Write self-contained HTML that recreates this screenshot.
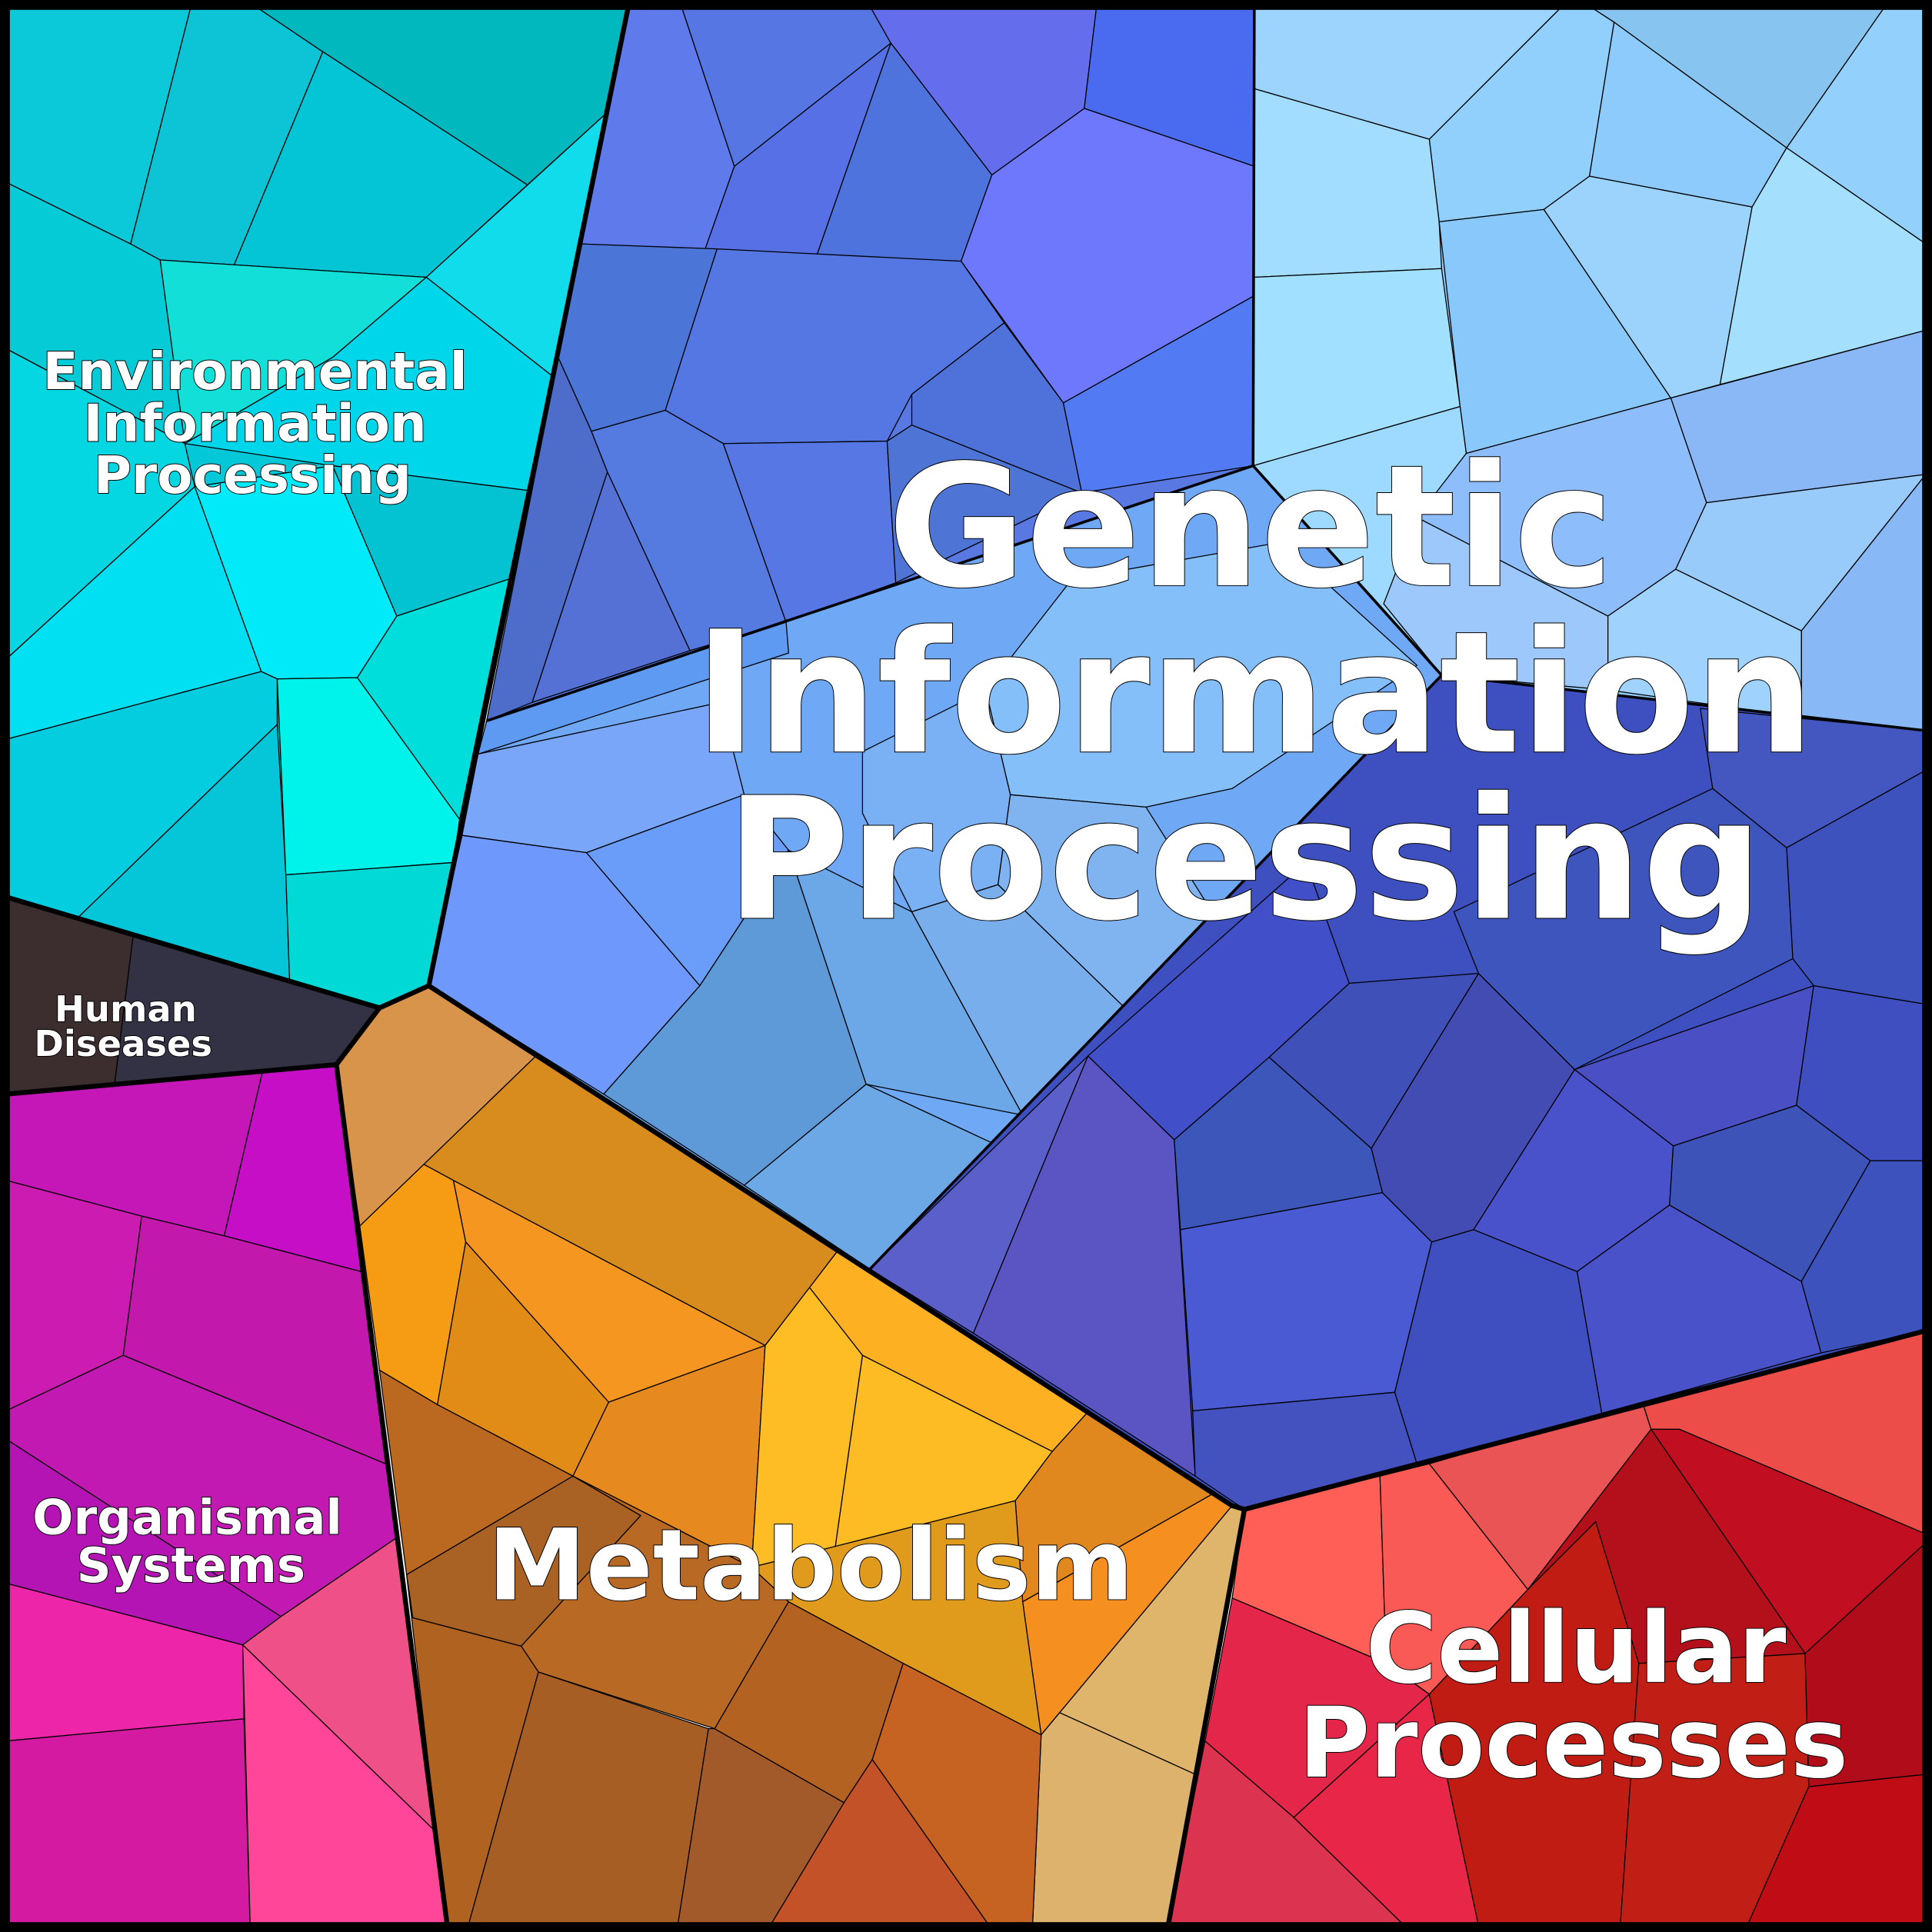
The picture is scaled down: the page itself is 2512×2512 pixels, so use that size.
<!DOCTYPE html>
<html><head><meta charset="utf-8"><style>
html,body{margin:0;padding:0;background:#fff}
svg{display:block}
text{font-family:"DejaVu Sans","Liberation Sans",sans-serif;font-weight:bold;fill:#fff;stroke:#000;stroke-width:1.2;paint-order:stroke;text-anchor:middle}
.t polygon{stroke:#000;stroke-width:0.8;stroke-linejoin:round}
</style></head><body>
<svg width="2512" height="2512" viewBox="0 0 1568 1568" xmlns="http://www.w3.org/2000/svg">
<g class="t">
<!-- Environmental -->
<polygon fill="#04c8d8" points="5,5 510,5 348,800 308,818 5,728"/>
<polygon fill="#0bc9d9" points="5,5 155,5 106,198 5,148"/>
<polygon fill="#0cc4d5" points="155,5 207,5 262,42 190,215 130,211 106,198"/>
<polygon fill="#00b8be" points="207,5 510,5 492,92 428,150 262,42"/>
<polygon fill="#04c5d6" points="262,42 428,150 346,225 190,215"/>
<polygon fill="#05cbd6" points="5,148 106,198 130,211 150,360 5,283"/>
<polygon fill="#12e0d8" points="130,211 346,225 270,290 150,360"/>
<polygon fill="#10dcec" points="346,225 492,92 448,305"/>
<polygon fill="#00d6ea" points="346,225 448,305 428,398 270,378 150,360 270,290"/>
<polygon fill="#04d6e2" points="5,283 150,360 158,395 5,535"/>
<polygon fill="#00eaf9" points="158,395 270,378 322,500 290,550 225,551 212,545"/>
<polygon fill="#03c3d2" points="270,378 428,398 413,470 322,500"/>
<polygon fill="#00e0f2" points="5,535 158,395 212,545 5,600"/>
<polygon fill="#00dedc" points="322,500 413,470 373,665 290,550"/>
<polygon fill="#04cde0" points="5,600 212,545 225,551 225,588 63,745 5,728"/>
<polygon fill="#04c6d8" points="63,745 225,588 232,710 235,795"/>
<polygon fill="#00f3ea" points="225,551 290,550 373,665 368,700 232,710"/>
<polygon fill="#00d9d6" points="232,710 368,700 348,800 308,818 235,795"/>
<!-- Human diseases -->
<polygon fill="#3c2e2e" points="5,728 108,760 93,880 5,888"/>
<polygon fill="#333244" points="108,760 308,818 273,864 93,880"/>
<!-- Organismal -->
<polygon fill="#c516b8" points="5,888 213,870 182,1003 115,987 5,958"/>
<polygon fill="#c60ec6" points="213,870 273,864 293,1032 182,1003"/>
<polygon fill="#cc1bb0" points="5,958 115,987 100,1100 5,1145"/>
<polygon fill="#c218ab" points="115,987 182,1003 293,1032 313,1188 100,1100"/>
<polygon fill="#c219b3" points="5,1145 100,1100 313,1188 322,1248 228,1312 5,1168"/>
<polygon fill="#b514b5" points="5,1168 228,1312 197,1335 5,1285"/>
<polygon fill="#ed25a9" points="5,1285 197,1335 198,1395 5,1413"/>
<polygon fill="#ef5087" points="197,1335 228,1312 322,1248 352,1485"/>
<polygon fill="#ff4699" points="197,1335 352,1485 363,1563 203,1563"/>
<polygon fill="#d41aa0" points="5,1413 198,1395 203,1563 5,1563"/>
<!-- Metabolism -->
<polygon fill="#d8944a" points="273,864 308,818 348,800 435,857 344,945 292,995"/>
<polygon fill="#d98c1e" points="435,857 680,1015 621,1092 368,958 344,945"/>
<polygon fill="#f59c14" points="292,995 344,945 368,958 378,1008 355,1140 308,1112"/>
<polygon fill="#f59620" points="368,958 621,1092 494,1138 378,1008"/>
<polygon fill="#e08c16" points="378,1008 494,1138 465,1198 355,1140"/>
<polygon fill="#e6891e" points="494,1138 621,1092 610,1272 465,1198"/>
<polygon fill="#fdb022" points="680,1015 882,1147 854,1178 700,1100 657,1045"/>
<polygon fill="#ffbd25" points="621,1092 657,1045 700,1100 678,1255 610,1272"/>
<polygon fill="#fdbc24" points="700,1100 854,1178 824,1218 678,1255"/>
<polygon fill="#e0881e" points="882,1147 985,1212 830,1300 824,1218 854,1178"/>
<polygon fill="#f58f20" points="985,1212 1000,1222 845,1408 830,1300"/>
<polygon fill="#e09a1c" points="610,1272 678,1255 824,1218 830,1300 845,1408 733,1350 640,1300"/>
<polygon fill="#dfb56c" points="1000,1222 1010,1225 970,1440 860,1390 845,1408"/>
<polygon fill="#dcb26c" points="845,1408 860,1390 970,1440 948,1563 838,1563"/>
<polygon fill="#bb6820" points="308,1112 355,1140 465,1198 330,1278"/>
<polygon fill="#a96224" points="330,1278 465,1198 520,1230 423,1336 335,1313"/>
<polygon fill="#b86a24" points="520,1230 465,1198 610,1272 640,1300 580,1403 437,1357 423,1336"/>
<polygon fill="#b06220" points="330,1278 335,1313 423,1336 437,1357 380,1563 363,1563"/>
<polygon fill="#a65e24" points="437,1357 575,1403 550,1563 380,1563"/>
<polygon fill="#a35a2a" points="575,1403 580,1403 685,1463 625,1563 550,1563"/>
<polygon fill="#b46222" points="580,1403 640,1300 733,1350 708,1428 685,1463"/>
<polygon fill="#c45228" points="685,1463 708,1428 803,1563 625,1563"/>
<polygon fill="#c66222" points="708,1428 733,1350 845,1408 838,1563 803,1563"/>
<!-- Genetic top-left -->
<polygon fill="#5a78e2" points="510,5 1018,5 1017,378 395,585"/>
<polygon fill="#5f7aeb" points="510,5 553,5 596,135 572,203 472,198"/>
<polygon fill="#5677e3" points="553,5 706,5 723,35 596,135"/>
<polygon fill="#5770e5" points="596,135 723,35 663,207 572,203"/>
<polygon fill="#646dec" points="706,5 890,5 880,88 805,142 723,35"/>
<polygon fill="#4a6bef" points="890,5 1018,5 1018,135 880,88"/>
<polygon fill="#4f73dc" points="723,35 805,142 780,212 663,207"/>
<polygon fill="#6e78fc" points="880,88 1018,135 1018,240 863,327 780,212 805,142"/>
<polygon fill="#4b76d8" points="472,198 582,202 540,333 480,350 453,290"/>
<polygon fill="#5577e3" points="582,202 780,212 815,262 740,320 720,358 587,360 540,333"/>
<polygon fill="#4e72d9" points="815,262 863,327 878,400 740,345 740,320"/>
<polygon fill="#527af3" points="863,327 1018,240 1017,378 878,400"/>
<polygon fill="#4e6cca" points="453,290 480,350 493,383 432,570 395,585"/>
<polygon fill="#5571d6" points="493,383 560,528 432,570"/>
<polygon fill="#557ae0" points="480,350 540,333 587,360 638,505 560,528 493,383"/>
<polygon fill="#5777e5" points="587,360 720,358 727,473 638,505"/>
<polygon fill="#4e75d6" points="720,358 740,345 878,400 727,473"/>
<!-- Genetic mid band -->
<polygon fill="#6fa8f5" points="395,585 1017,378 1170,548 706,1030 348,800"/>
<polygon fill="#85bffa" points="870,470 1040,440 1150,540 1000,640 930,655 820,645 800,560"/>
<polygon fill="#7ab0f4" points="700,610 800,560 820,645 810,718 740,740 700,660"/>
<polygon fill="#7fb4f0" points="820,645 930,655 990,750 915,820 810,718"/>
<polygon fill="#5f9af2" points="395,585 638,505 640,530 388,612"/>
<polygon fill="#7aa6fa" points="388,612 585,570 604,645 476,692 375,678"/>
<polygon fill="#6e98fc" points="375,678 476,692 568,800 490,888 348,800"/>
<polygon fill="#6a9cfa" points="476,692 604,645 640,690 568,800"/>
<polygon fill="#5e9ad8" points="568,800 640,690 703,880 604,962 490,888"/>
<polygon fill="#6ca8e8" points="640,690 740,740 830,905 703,880"/>
<polygon fill="#6ca8e6" points="703,880 806,928 706,1030 604,962"/>
<polygon fill="#78aeec" points="740,740 810,718 915,820 830,905"/>
<!-- Genetic top-right -->
<polygon fill="#95cdfc" points="1018,5 1563,5 1563,593 1170,548 1017,378"/>
<polygon fill="#9dd4fe" points="1018,5 1268,5 1160,113 1018,72"/>
<polygon fill="#91cffc" points="1268,5 1290,5 1310,18 1290,143 1253,170 1168,180 1160,113"/>
<polygon fill="#88c4f0" points="1290,5 1530,5 1450,120 1310,18"/>
<polygon fill="#93d1fc" points="1530,5 1563,5 1563,198 1450,120"/>
<polygon fill="#8ccbfb" points="1310,18 1450,120 1422,168 1290,143"/>
<polygon fill="#a2dcff" points="1018,72 1160,113 1168,180 1170,218 1018,225"/>
<polygon fill="#a2e0ff" points="1018,225 1170,218 1185,330 1017,378"/>
<polygon fill="#88c8fa" points="1168,180 1253,170 1356,323 1190,368 1185,330"/>
<polygon fill="#9cd3fc" points="1253,170 1290,143 1422,168 1396,312 1356,323"/>
<polygon fill="#a4e0fd" points="1422,168 1450,120 1563,198 1563,268 1396,312"/>
<polygon fill="#8ab8f7" points="1356,323 1563,268 1563,385 1385,408"/>
<polygon fill="#9ed9ff" points="1017,378 1185,330 1190,368 1123,490 1170,548"/>
<polygon fill="#8ebdfb" points="1190,368 1356,323 1385,408 1360,462 1305,500 1150,420"/>
<polygon fill="#98cafa" points="1385,408 1563,385 1462,512 1360,462"/>
<polygon fill="#88b8f6" points="1462,512 1563,385 1563,593 1462,582"/>
<polygon fill="#9cc8fb" points="1150,420 1305,500 1305,560 1170,548 1123,490"/>
<polygon fill="#a0d2fe" points="1305,500 1360,462 1462,512 1462,582 1305,560"/>
<!-- Genetic dark blue -->
<polygon fill="#3e50c0" points="1170,548 1563,593 1563,1080 1010,1225 1000,1222 706,1030"/>
<polygon fill="#5a5fca" points="706,1030 883,857 790,1082"/>
<polygon fill="#5a55c3" points="883,857 953,925 970,1198 790,1082"/>
<polygon fill="#3c56b9" points="953,925 1030,858 1113,932 1122,968 958,998"/>
<polygon fill="#495ad2" points="958,998 1122,968 1162,1008 1132,1130 968,1145"/>
<polygon fill="#4452c0" points="968,1145 1132,1130 1150,1188 1010,1225 970,1198"/>
<polygon fill="#434cb2" points="1113,932 1200,790 1278,868 1196,998 1162,1008 1122,968"/>
<polygon fill="#3f4fc0" points="1162,1008 1196,998 1280,1032 1300,1147 1150,1188 1132,1130"/>
<polygon fill="#4a52cb" points="1196,998 1278,868 1358,930 1355,978 1280,1032"/>
<polygon fill="#4952c8" points="1280,1032 1355,978 1462,1040 1478,1098 1300,1147"/>
<polygon fill="#3d53b8" points="1355,978 1358,930 1458,897 1518,942 1462,1040"/>
<polygon fill="#3e52bd" points="1462,1040 1518,942 1563,942 1563,1080 1478,1098"/>
<polygon fill="#4a4fc4" points="1278,868 1472,800 1458,897 1358,930"/>
<polygon fill="#3f4fbf" points="1458,897 1472,800 1563,815 1563,942 1518,942"/>
<polygon fill="#3d52bc" points="1450,688 1563,625 1563,815 1472,800 1455,778"/>
<polygon fill="#3f51b8" points="1030,858 1095,798 1200,790 1113,932"/>
<polygon fill="#4150c8" points="883,857 1060,700 1095,798 1030,858 953,925"/>
<polygon fill="#3f55be" points="1390,640 1450,688 1455,778 1278,868 1200,790 1180,740"/>
<polygon fill="#4456c0" points="1380,575 1563,593 1563,625 1450,688 1390,640"/>
<!-- Cellular -->
<polygon fill="#ff5f56" points="1010,1225 1120,1198 1125,1350 1000,1297"/>
<polygon fill="#fa5a55" points="1120,1198 1160,1188 1240,1290 1160,1375 1125,1350"/>
<polygon fill="#ea5454" points="1160,1188 1333,1138 1340,1160 1240,1290"/>
<polygon fill="#ec4d48" points="1333,1138 1563,1080 1563,1245 1363,1160 1340,1160"/>
<polygon fill="#c10e20" points="1363,1160 1563,1245 1563,1252 1465,1342 1340,1160"/>
<polygon fill="#b3101c" points="1240,1290 1340,1160 1465,1342 1468,1450 1315,1450 1295,1235"/>
<polygon fill="#e3264a" points="1000,1297 1125,1350 1160,1375 1050,1475 978,1413"/>
<polygon fill="#dc3450" points="978,1413 1050,1475 1140,1563 948,1563"/>
<polygon fill="#e82648" points="1050,1475 1160,1375 1200,1563 1140,1563"/>
<polygon fill="#c01c14" points="1160,1375 1240,1290 1295,1235 1330,1350 1315,1563 1200,1563"/>
<polygon fill="#c11e15" points="1330,1350 1465,1342 1468,1450 1418,1563 1315,1563"/>
<polygon fill="#c00c14" points="1468,1450 1563,1440 1563,1563 1418,1563"/>
<polygon fill="#b10c1a" points="1465,1342 1563,1252 1563,1440 1468,1450"/>
</g>
<!-- thick borders -->
<g fill="none" stroke="#000" stroke-width="4" stroke-linejoin="round">
<polyline points="510,5 348,800 308,818 5,728"/>
<polyline points="308,818 273,864 5,888"/>
<polyline points="273,864 363,1563"/>
<polyline points="348,800 1000,1222 1010,1225 948,1563"/>
<polyline points="1010,1225 1563,1080"/>
</g>
<g fill="none" stroke="#000" stroke-width="2.2" stroke-linejoin="round">
<polyline points="395,585 1017,378 1018,5"/>
<polyline points="1017,378 1170,548 1563,593"/>
<polyline points="1170,548 706,1030"/>
</g>
<rect x="4" y="4" width="1560" height="1560" fill="none" stroke="#000" stroke-width="8"/>
<!-- labels -->
<text font-size="137" x="1015" y="475">Genetic</text>
<text font-size="137" x="1018" y="610">Information</text>
<text font-size="137" x="1010" y="745">Processing</text>
<text font-size="80" x="658" y="1298">Metabolism</text>
<text font-size="79" x="1279" y="1365">Cellular</text>
<text font-size="79" x="1277" y="1442">Processes</text>
<text font-size="42" x="207" y="316" stroke-width="0.8">Environmental</text>
<text font-size="42" x="207" y="358" stroke-width="0.8">Information</text>
<text font-size="42" x="205" y="400" stroke-width="0.8">Processing</text>
<text font-size="29" x="102" y="829" stroke-width="0.6">Human</text>
<text font-size="29" x="100" y="857" stroke-width="0.6">Diseases</text>
<text font-size="39" x="152" y="1245" stroke-width="0.8">Organismal</text>
<text font-size="39" x="155" y="1284" stroke-width="0.8">Systems</text>
</svg>
</body></html>
